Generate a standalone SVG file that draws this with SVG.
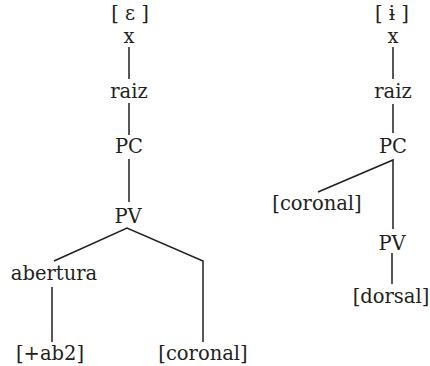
<svg xmlns="http://www.w3.org/2000/svg" width="430" height="366" viewBox="0 0 430 366">
<style>
text{font-family:"DejaVu Serif","Liberation Serif",serif;font-size:19.5px;fill:#231f20;text-anchor:middle}
.c line,.c polyline{stroke:#231f20;stroke-width:1.5;fill:none}
</style>
<rect width="430" height="366" fill="#fff"/>
<g class="c" id="connectors">
<line x1="129" y1="47" x2="129" y2="79"/>
<line x1="129" y1="103" x2="129" y2="135"/>
<line x1="129" y1="159" x2="129" y2="202"/>
<polyline points="54,261 127,228 203,261 203,342"/>
<line x1="52" y1="287" x2="52" y2="342"/>
<line x1="393" y1="47" x2="393" y2="79"/>
<line x1="393" y1="104" x2="393" y2="133"/>
<polyline points="318,192 393,160 393,229"/>
<line x1="392" y1="253" x2="392" y2="284"/>
</g>
<g id="eps"><text x="130" y="20">[ ε ]</text></g>
<g id="x1"><text x="129" y="43">x</text></g>
<g id="raiz1"><text x="129" y="98">raiz</text></g>
<g id="pc1"><text x="129" y="153">PC</text></g>
<g id="pv1"><text x="128" y="223">PV</text></g>
<g id="abertura"><text x="54" y="280">abertura</text></g>
<g id="ab2"><text x="50" y="360">[+ab2]</text></g>
<g id="coronal1"><text x="203" y="360">[coronal]</text></g>
<g id="ibar"><text x="392" y="20">[ ɨ ]</text></g>
<g id="x2"><text x="393" y="43">x</text></g>
<g id="raiz2"><text x="393" y="98">raiz</text></g>
<g id="pc2"><text x="393" y="153">PC</text></g>
<g id="coronal2"><text x="317" y="210">[coronal]</text></g>
<g id="pv2"><text x="392" y="250">PV</text></g>
<g id="dorsal"><text x="391" y="303">[dorsal]</text></g>
</svg>
